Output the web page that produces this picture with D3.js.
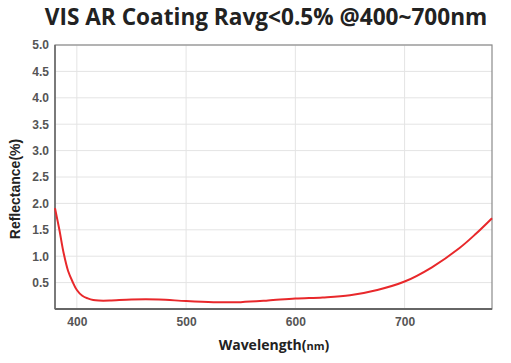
<!DOCTYPE html>
<html><head><meta charset="utf-8">
<script src="https://cdn.jsdelivr.net/npm/d3@7"></script>
<style>body{margin:0;background:#fff}svg{display:block}</style>
</head><body>
<script>
const wavelengths = [380,384,388,392,396,400,405,410,415,420,430,450,475,500,525,550,575,600,625,650,675,700,725,750,765,780];
const reflectance = [1.91,1.50,1.05,0.72,0.52,0.36,0.25,0.20,0.17,0.16,0.16,0.18,0.18,0.15,0.13,0.13,0.16,0.20,0.22,0.26,0.36,0.52,0.79,1.15,1.42,1.72];
const xTicks = [400,500,600,700];
const yTicks = [0.5,1.0,1.5,2.0,2.5,3.0,3.5,4.0,4.5,5.0];
const titleText = "VIS AR Coating Ravg<0.5% @400~700nm";

const W = 511, H = 363;
const m = {left:55, right:19, top:45, bottom:54};
const svg = d3.select("body").append("svg").attr("width",W).attr("height",H);
const x = d3.scaleLinear().domain([380,780]).range([m.left, W-m.right]);
const y = d3.scaleLinear().domain([0,5]).range([H-m.bottom, m.top]);

// grid
svg.append("g").selectAll("line.v").data(xTicks).join("line")
  .attr("x1",d=>x(d)).attr("x2",d=>x(d)).attr("y1",y(0)).attr("y2",y(5))
  .attr("stroke","#e4e4e4").attr("stroke-width",1);
svg.append("g").selectAll("line.h").data(yTicks).join("line")
  .attr("x1",x(380)).attr("x2",x(780)).attr("y1",d=>y(d)).attr("y2",d=>y(d))
  .attr("stroke","#e4e4e4").attr("stroke-width",1);

// frame
svg.append("rect").attr("x",x(380)).attr("y",y(5)).attr("width",x(780)-x(380)).attr("height",y(0)-y(5))
  .attr("fill","none").attr("stroke","#8a8a8a").attr("stroke-width",1.2);
svg.append("line").attr("x1",x(380)).attr("x2",x(780)).attr("y1",y(0)).attr("y2",y(0)).attr("stroke","#666").attr("stroke-width",2);
svg.append("line").attr("x1",x(380)).attr("x2",x(380)).attr("y1",y(0)).attr("y2",y(5)).attr("stroke","#666").attr("stroke-width",1.5);

// axes
const xAxis = d3.axisBottom(x).tickValues(xTicks).tickSize(0).tickPadding(8).tickFormat(d3.format("d"));
const gx = svg.append("g").attr("transform",`translate(0,${y(0)})`).call(xAxis);
gx.select(".domain").remove();
gx.selectAll("text").attr("font-family","Liberation Sans, Arial, sans-serif").attr("font-size",12).attr("font-weight","bold").attr("fill","#555");

const yAxis = d3.axisLeft(y).tickValues(yTicks).tickSize(0).tickPadding(6).tickFormat(d3.format(".1f"));
const gy = svg.append("g").attr("transform",`translate(${x(380)},0)`).call(yAxis);
gy.select(".domain").remove();
gy.selectAll("text").attr("font-family","Liberation Sans, Arial, sans-serif").attr("font-size",12).attr("font-weight","bold").attr("fill","#555");

// line
const data = wavelengths.map((w,i)=>({w, r:reflectance[i]}));
svg.append("path").datum(data)
  .attr("d", d3.line().x(d=>x(d.w)).y(d=>y(d.r)).curve(d3.curveCatmullRom.alpha(0.5)))
  .attr("fill","none").attr("stroke","#e8282b").attr("stroke-width",2);

// title
svg.append("text").attr("x",266).attr("y",25).attr("text-anchor","middle")
  .attr("font-family","Open Sans, Noto Sans, sans-serif").attr("font-weight","bold").attr("font-size",22.6)
  .attr("fill","#222").text(titleText);

// x title
const xt = svg.append("text").attr("x",274).attr("y",350).attr("text-anchor","middle")
  .attr("font-family","Open Sans, Noto Sans, sans-serif").attr("font-weight","bold").attr("font-size",14).attr("fill","#222");
xt.append("tspan").text("Wavelength(");
xt.append("tspan").attr("font-size",11).text("nm");
xt.append("tspan").text(")");

// y title
svg.append("text").attr("transform","translate(20,189) rotate(-90)").attr("text-anchor","middle")
  .attr("font-family","Liberation Sans, Arial, sans-serif").attr("font-weight","bold").attr("font-size",14)
  .attr("fill","#222").text("Reflectance(%)");
</script>
</body></html>
